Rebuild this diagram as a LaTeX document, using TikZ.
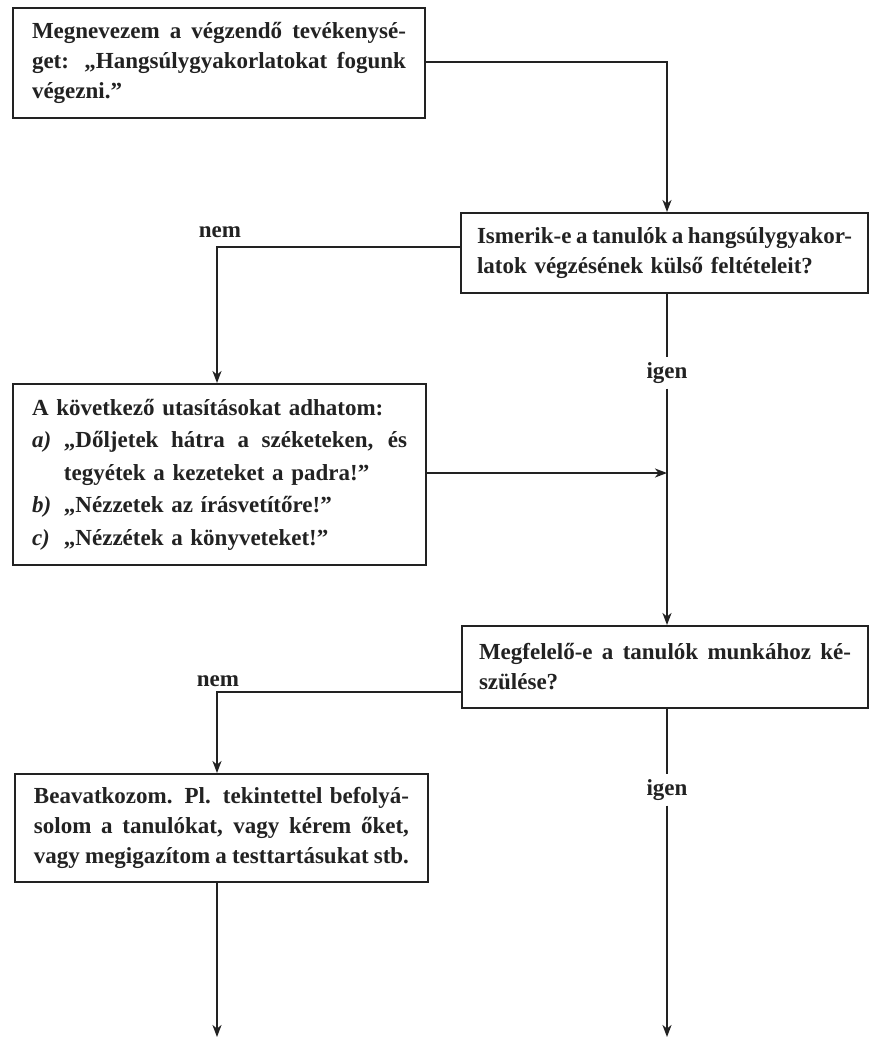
\documentclass[tikz,border=0pt]{standalone}
\usepackage{fontspec}
\setmainfont{Liberation Serif}
\usetikzlibrary{arrows.meta}
\definecolor{ink}{HTML}{222222}

% a justified line filling the node's text width
% (interword glue is reset to the font's own, so that it can stretch)
\newcommand{\jline}[1]{{\spaceskip=0pt\xspaceskip=0pt\makebox[\hsize][s]{#1}}}
% an item label with a hanging indent
\newcommand{\itemlbl}[1]{\makebox[32pt][l]{\textit{#1}}}
\newcommand{\jitem}[1]{{\spaceskip=0pt\xspaceskip=0pt\makebox[\dimexpr\hsize-32pt\relax][s]{#1}}}

\begin{document}
\begin{tikzpicture}[x=1pt,y=-1pt,
  box/.style={draw=ink, line width=2pt, anchor=north west, inner xsep=19pt,
    inner ysep=0pt, align=left, text=ink,
    font=\fontsize{23}{30}\selectfont\bfseries},
  conn/.style={draw=ink, line width=1.6pt},
  arr/.style={conn, -{Stealth[length=12pt,width=9pt,inset=3.5pt]}},
  lab/.style={text=ink, inner sep=5pt, font=\fontsize{23}{26}\selectfont\bfseries}]

\useasboundingbox (0,0) rectangle (870,1039);
\fill[white] (0,0) rectangle (870,1039);

% boxes
\node[box, text width=374pt, minimum height=110pt] (b1) at (12,7)
  {\jline{Megnevezem a végzendő tevékenysé-}\\
   \jline{get: „Hangsúlygyakorlatokat fogunk}\\
   végezni.”};

\node[box, inner xsep=16pt, text width=375pt, minimum height=80pt] (b2) at (460,212)
  {\jline{Ismerik-e a tanulók a hangsúlygyakor-}\\
   latok végzésének külső feltételeit?};

\node[box, text width=375pt, minimum height=181pt,
      font=\fontsize{23}{32.5}\selectfont\bfseries] (b3) at (12,383)
  {A következő utasításokat adhatom:\\
   \itemlbl{a)}\jitem{„Dőljetek hátra a széketeken, és}\\
   \hspace*{32pt}tegyétek a kezeteket a padra!”\\
   \itemlbl{b)}„Nézzetek az írásvetítőre!”\\
   \itemlbl{c)}„Nézzétek a könyveteket!”};

\node[box, inner xsep=17pt, text width=372pt, minimum height=82pt] (b4) at (461,625)
  {\jline{Megfelelő-e a tanulók munkához ké-}\\
   szülése?};

\node[box, text width=375pt, minimum height=108pt] (b5) at (14,773)
  {\jline{Beavatkozom. Pl. tekintettel befolyá-}\\
   \jline{solom a tanulókat, vagy kérem őket,}\\
   \jline{vagy megigazítom a testtartásukat stb.}};

% branch labels
\node[lab] (n1) at (220,232) {nem};
\node[lab] (n2) at (218,681) {nem};
\node[lab] (y1) at (667,373) {igen};
\node[lab] (y2) at (667,790) {igen};

% turning points and free ends
\coordinate (r1) at (667,62);
\coordinate (l1) at (217,247);
\coordinate (m1) at (667,473);
\coordinate (l2) at (217,692);
\coordinate (e1) at (217,1037);
\coordinate (e2) at (667,1037);

% connectors
\draw[arr] (b1.east |- r1) -- (r1) -- (r1 |- b2.north);
\draw[arr] (b2.west |- l1) -- (l1) -- (l1 |- b3.north);
\draw[conn] (r1 |- b2.south) -- (y1.north);
\draw[arr] (y1.south) -- (r1 |- b4.north);
\draw[arr] (b3.east |- m1) -- (m1);
\draw[arr] (b4.west |- l2) -- (l2) -- (l2 |- b5.north);
\draw[conn] (r1 |- b4.south) -- (y2.north);
\draw[arr] (y2.south) -- (e2);
\draw[arr] (l2 |- b5.south) -- (e1);
\end{tikzpicture}
\end{document}
